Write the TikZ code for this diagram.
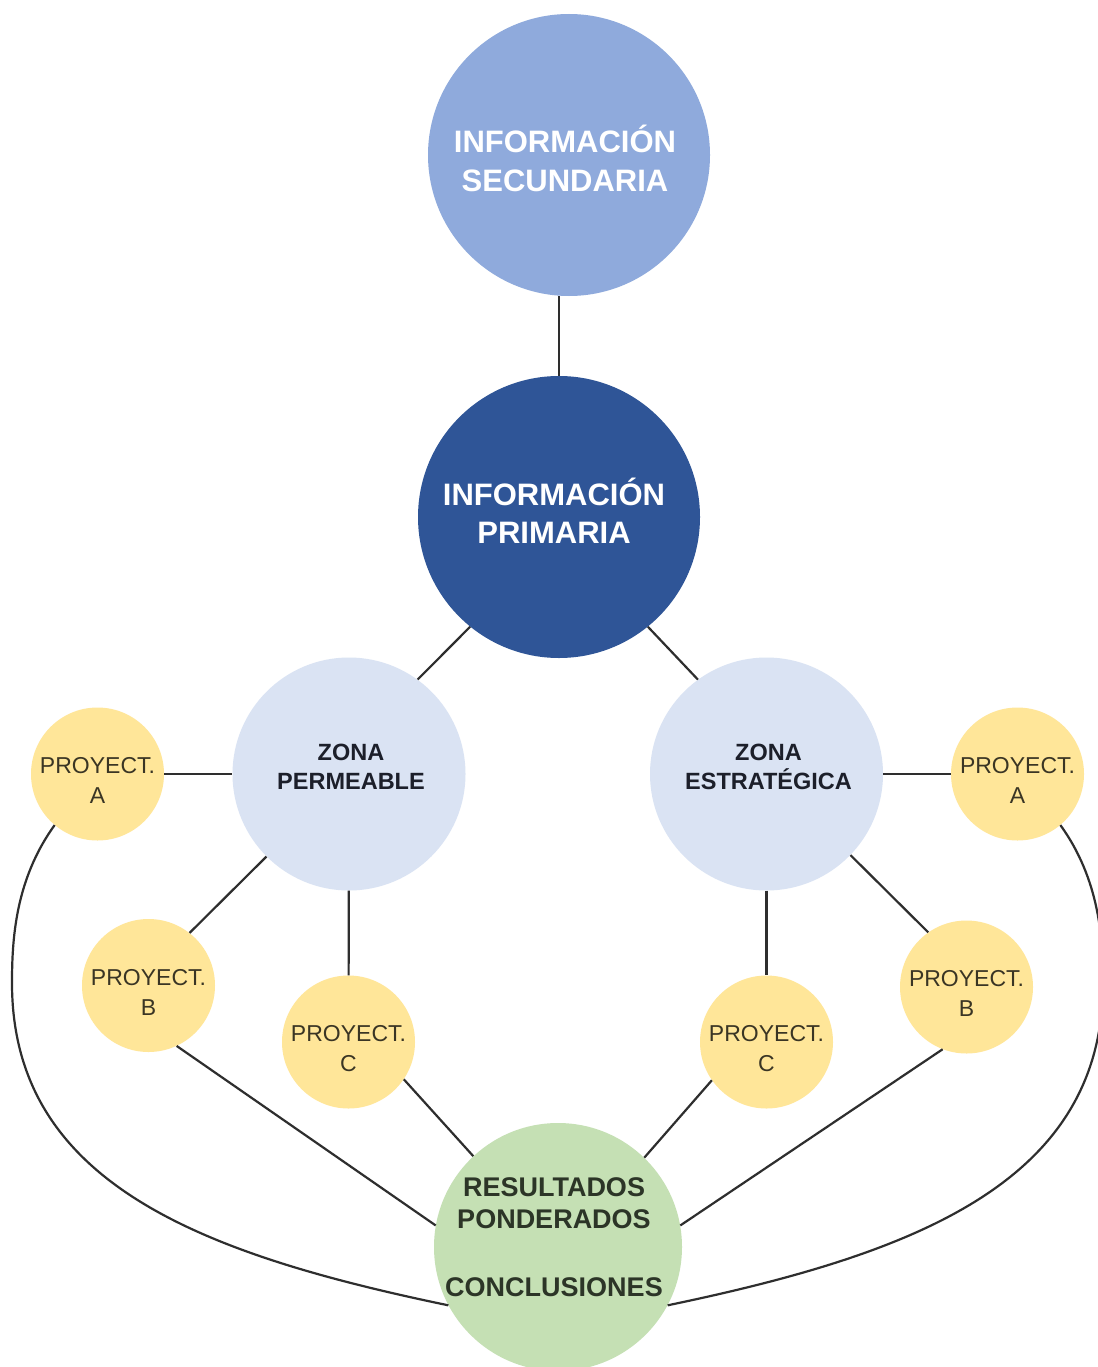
\documentclass[tikz,border=0pt]{standalone}
\usepackage{fontspec}
\setmainfont{Liberation Sans}
\definecolor{secblue}{HTML}{8FAADC}
\definecolor{primblue}{HTML}{2F5597}
\definecolor{zonablue}{HTML}{DAE3F3}
\definecolor{projyellow}{HTML}{FFE699}
\definecolor{resgreen}{HTML}{C5E0B4}
\definecolor{linegray}{HTML}{2E2E2E}
\definecolor{zonatext}{HTML}{1C1F2A}
\definecolor{projtextc}{HTML}{3A3524}
\definecolor{restextc}{HTML}{2C3527}
\begin{document}
\begin{tikzpicture}[x=1pt,y=-1pt,
  bubble/.style={circle, inner sep=0pt, draw=none},
  bigbub/.style={bubble, minimum size=282pt},
  zonebub/.style={bubble, fill=zonablue, minimum size=233pt},
  projbub/.style={bubble, fill=projyellow, minimum size=133pt},
  resbub/.style={bubble, fill=resgreen, minimum size=248pt},
  bigtext/.style={font=\fontsize{31}{38.5}\selectfont\bfseries, text=white, align=center},
  zonetext/.style={font=\fontsize{23.5}{28.5}\selectfont\bfseries, text=zonatext, align=center},
  projtext/.style={font=\fontsize{23}{30}\selectfont, text=projtextc, align=center, yshift=-6.5pt},
  restext/.style={font=\fontsize{27}{31.5}\selectfont\bfseries, text=restextc, align=center},
  link/.style={draw=linegray, line width=2.2pt}
]
\useasboundingbox (0,0) rectangle (1097,1367);
\fill[white] (0,0) rectangle (1097,1367);

% circles
\node[bigbub, fill=secblue,
  label={[bigtext, name=sect, xshift=-4pt, yshift=-3.6pt]center:{INFORMACIÓN\\SECUNDARIA}}] (sec) at (569,155) {};
\node[bigbub, fill=primblue,
  label={[bigtext, name=primt, xshift=-5pt, yshift=6.4pt]center:{INFORMACIÓN\\PRIMARIA}}] (prim) at (559,517) {};
\node[zonebub,
  label={[zonetext, name=zpt, xshift=2pt, yshift=7.3pt]center:{ZONA\\PERMEABLE}}] (zp) at (349,774) {};
\node[zonebub,
  label={[zonetext, name=zet, xshift=2pt, yshift=7.3pt]center:{ZONA\\ESTRATÉGICA}}] (ze) at (766.5,774) {};
\node[projbub, label={[projtext, name=pa1t]center:{PROYECT.\\A}}] (pa1) at (97.5,774) {};
\node[projbub, label={[projtext, name=pb1t]center:{PROYECT.\\B}}] (pb1) at (148.5,985.5) {};
\node[projbub, label={[projtext, name=pc1t]center:{PROYECT.\\C}}] (pc1) at (348.5,1042) {};
\node[projbub, label={[projtext, name=pc2t]center:{PROYECT.\\C}}] (pc2) at (766.5,1042) {};
\node[projbub, label={[projtext, name=pb2t]center:{PROYECT.\\B}}] (pb2) at (966.5,987) {};
\node[projbub, label={[projtext, name=pa2t]center:{PROYECT.\\A}}] (pa2) at (1017.5,774) {};
\node[resbub,
  label={[restext, name=rest, xshift=-4pt, yshift=9.5pt]center:{RESULTADOS\\PONDERADOS\\[37pt]CONCLUSIONES}}] (res) at (558,1247) {};

% connectors
\draw[link] (prim.north) -- (prim.north |- sec.south);
\draw[link] (prim.231) -- (zp.54);
\draw[link] (prim.309) -- (ze.126);
\draw[link] (pa1) -- (zp);
\draw[link] (zp.225) -- (pb1.52);
\draw[link] (zp) -- (pc1);
\draw[link] (ze) -- (pa2);
\draw[link] (ze.316) -- (pb2.125);
\draw[link] (ze) -- (pc2);
\draw[link] (pb1.295) -- (res.170);
\draw[link] (pc1.326) -- (res.133);
\draw[link] (pc2.215) -- (res.46);
\draw[link] (pb2.249) -- (res.10);
\draw[link] (pa1.230) .. controls (15,880) and (12,940) .. (12,983)
  .. controls (12,1183) and (201,1254) .. (res.208);
\draw[link] (pa2.310) .. controls (1100,880) and (1103,940) .. (1103,983)
  .. controls (1103,1183) and (914,1254) .. (res.332);
\end{tikzpicture}
\end{document}
